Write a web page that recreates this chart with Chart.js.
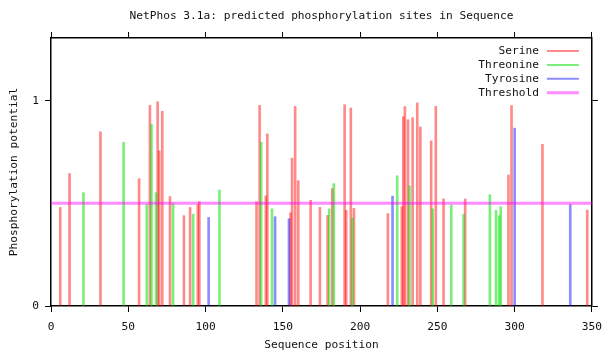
<!DOCTYPE html>
<html><head><meta charset="utf-8">
<script src="https://cdn.jsdelivr.net/npm/chart.js@4"></script>
<style>html,body{margin:0;padding:0;background:#fff}#wrap{width:610px;height:360px}</style>
</head><body><div id="wrap"><canvas id="c" width="610" height="360"></canvas></div>
<script>
// ---- data ----
const serinePos = [6, 12, 32, 57, 64, 69, 70, 72, 77, 86, 90, 95, 96, 133, 135, 139, 140, 155, 156, 158, 160, 168, 174, 179, 182, 190, 191, 194, 196, 218, 227, 228, 229, 231, 234, 237, 239, 246, 249, 254, 268, 296, 298, 318, 347];
const serineVal = [0.48, 0.645, 0.848, 0.62, 0.977, 0.995, 0.756, 0.948, 0.533, 0.44, 0.48, 0.493, 0.508, 0.508, 0.977, 0.536, 0.838, 0.454, 0.72, 0.972, 0.61, 0.515, 0.48, 0.441, 0.572, 0.98, 0.466, 0.964, 0.475, 0.45, 0.484, 0.922, 0.971, 0.907, 0.917, 0.989, 0.872, 0.804, 0.972, 0.522, 0.521, 0.638, 0.976, 0.787, 0.467];
const threoninePos = [21, 47, 62, 65, 68, 79, 92, 109, 136, 143, 180, 183, 195, 224, 232, 247, 259, 267, 284, 288, 290, 291];
const threonineVal = [0.552, 0.797, 0.494, 0.886, 0.552, 0.498, 0.447, 0.565, 0.797, 0.473, 0.473, 0.596, 0.429, 0.634, 0.585, 0.473, 0.492, 0.447, 0.542, 0.466, 0.44, 0.484];
const tyrosinePos = [102, 145, 154, 221, 300, 336];
const tyrosineVal = [0.431, 0.435, 0.425, 0.535, 0.866, 0.494];
const threshold = 0.5;
const thresholdX = [0, 350];
const xTicks = [0, 50, 100, 150, 200, 250, 300, 350];
const yTicks = [0, 1];
const xRange = [0, 350];
const yRange = [0, 1.305];
const seriesNames = ['Serine', 'Threonine', 'Tyrosine', 'Threshold'];
const titleText = 'NetPhos 3.1a: predicted phosphorylation sites in Sequence';
const xTitle = 'Sequence position';
const yTitle = 'Phosphorylation potential';

function pts(p, v) { return p.map((x, i) => ({ x: x, y: v[i] })); }

const MONO = "'DejaVu Sans Mono', 'Liberation Mono', monospace";
const font = { family: MONO, size: 11.2 };
const colors = ['rgba(255,0,0,0.46)', 'rgba(0,225,0,0.52)', 'rgba(0,0,255,0.45)', 'rgba(255,0,255,0.45)'];

const legendPlugin = {
  id: 'insideLegend',
  afterDatasetsDraw(chart) {
    const ctx = chart.ctx, a = chart.chartArea;
    ctx.save();
    ctx.font = '11.2px ' + MONO;
    ctx.fillStyle = '#111';
    ctx.textAlign = 'right';
    ctx.textBaseline = 'middle';
    seriesNames.forEach((name, i) => {
      const y = a.top + 13 + i * 13.9;
      ctx.fillText(name, a.right - 53, y);
      ctx.strokeStyle = colors[i];
      ctx.lineWidth = i === 3 ? 3 : 2;
      ctx.beginPath();
      ctx.moveTo(a.right - 45, y);
      ctx.lineTo(a.right - 13, y);
      ctx.stroke();
    });
    ctx.restore();
  }
};

const gridOpts = { display: true, drawOnChartArea: false, drawTicks: true, tickLength: 6, color: '#000', lineWidth: 1, offset: false };
const borderOpts = { display: true, color: '#000', width: 1.5 };

const barDs = (label, p, v, c, order) => ({
  type: 'bar', label: label, data: pts(p, v), backgroundColor: c, borderWidth: 0,
  barThickness: 2, grouped: false, order: order
});

new Chart(document.getElementById('c'), {
  type: 'bar',
  data: {
    datasets: [
      barDs(seriesNames[0], serinePos, serineVal, colors[0], 3),
      barDs(seriesNames[1], threoninePos, threonineVal, colors[1], 2),
      barDs(seriesNames[2], tyrosinePos, tyrosineVal, colors[2], 1),
      { type: 'line', label: seriesNames[3], data: pts(thresholdX, [threshold, threshold]),
        borderColor: colors[3], borderWidth: 3, pointRadius: 0, fill: false, order: 0 }
    ]
  },
  options: {
    responsive: false, animation: false, devicePixelRatio: 1,
    layout: { padding: 0 },
    plugins: { legend: { display: false }, tooltip: { enabled: false }, title: { display: false } },
    scales: {
      x: {
        type: 'linear', position: 'bottom', min: xRange[0], max: xRange[1], offset: false,
        afterBuildTicks: s => { s.ticks = xTicks.map(v => ({ value: v })); },
        afterFit: s => { s.height = 54; },
        grid: gridOpts, border: borderOpts,
        ticks: { font: font, color: '#111', padding: 8, maxRotation: 0, autoSkip: false, callback: v => String(v) },
        title: { display: true, text: xTitle, font: font, color: '#111', padding: { top: 0, bottom: 8 } }
      },
      x2: {
        type: 'linear', position: 'top', min: xRange[0], max: xRange[1], offset: false,
        afterBuildTicks: s => { s.ticks = xTicks.map(v => ({ value: v })); },
        afterFit: s => { s.height = 38; },
        grid: gridOpts, border: borderOpts,
        ticks: { display: false },
        title: { display: true, text: titleText, font: font, color: '#111', padding: { top: 9, bottom: 0 } }
      },
      y: {
        type: 'linear', position: 'left', min: yRange[0], max: yRange[1],
        afterBuildTicks: s => { s.ticks = yTicks.map(v => ({ value: v })); },
        afterFit: s => { s.width = 51; },
        grid: gridOpts, border: borderOpts,
        ticks: { font: font, color: '#111', padding: 6, callback: v => String(v) },
        title: { display: true, text: yTitle, font: font, color: '#111', padding: { top: 7.4, bottom: 0 } }
      },
      y2: {
        type: 'linear', position: 'right', min: yRange[0], max: yRange[1],
        afterBuildTicks: s => { s.ticks = yTicks.map(v => ({ value: v })); },
        afterFit: s => { s.width = 15; },
        grid: gridOpts, border: borderOpts,
        ticks: { display: false }
      }
    }
  },
  plugins: [legendPlugin]
});
</script>
</body></html>
